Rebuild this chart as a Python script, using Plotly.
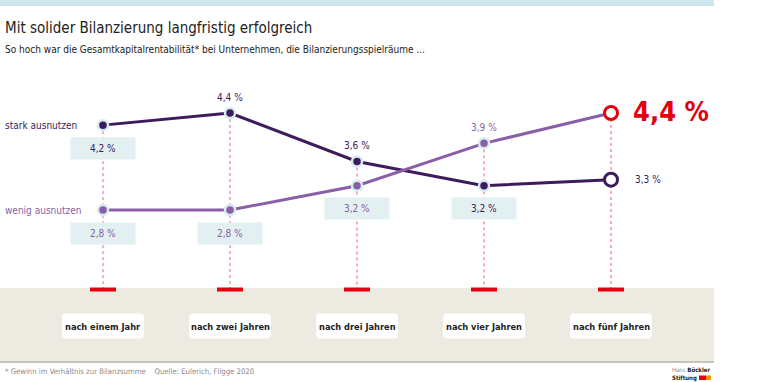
import plotly.graph_objects as go

# ---- data ----
categories = ["nach einem Jahr", "nach zwei Jahren", "nach drei Jahren", "nach vier Jahren", "nach fünf Jahren"]
series_names = ["stark ausnutzen", "wenig ausnutzen"]
stark = [4.2, 4.4, 3.6, 3.2, 3.3]
wenig = [2.8, 2.8, 3.2, 3.9, 4.4]
# label placement per point: "below" (boxed), "above", "right"
stark_pos = ["below", "above", "above", "below", "right"]
wenig_pos = ["below", "below", "below", "above", "big"]

title = "Mit solider Bilanzierung langfristig erfolgreich"
subtitle = "So hoch war die Gesamtkapitalrentabilität* bei Unternehmen, die Bilanzierungsspielräume ..."
footnote = "* Gewinn im Verhältnis zur Bilanzsumme    Quelle: Eulerich, Fligge 2020"

# ---- style ----
W, H = 768, 382
DARK = "#3d1b5c"
LIGHT = "#8a5fa8"
RED = "#e3000f"
HALO = "#d6ecef"
BOXBG = "#e2f0f1"
BEIGE = "#edebe1"
FONT = "Liberation Sans Narrow, DejaVu Sans Condensed, Arial Narrow, sans-serif"

# axis ranges chosen so that the plot area fills the whole page
XR = [-0.811, 5.236]
YR = [-0.037, 6.264]

def fmt(v):
    return f"{v:.1f}".replace(".", ",") + " %"

def py_to_paper(px):
    return 1 - px / H

def py_to_y(px):
    return YR[1] - px / H * (YR[1] - YR[0])

fig = go.Figure()

for vals, col, name in [(stark, DARK, series_names[0]), (wenig, LIGHT, series_names[1])]:
    last_line = RED if col == LIGHT else DARK
    fig.add_trace(go.Scatter(
        x=categories, y=vals, mode="lines", name=name,
        line=dict(color=col, width=3), hoverinfo="skip", showlegend=False))
    fig.add_trace(go.Scatter(
        x=categories[:-1], y=vals[:-1], mode="markers",
        marker=dict(color=col, size=10, line=dict(color=HALO, width=2.5)),
        hoverinfo="skip", showlegend=False))
    fig.add_trace(go.Scatter(
        x=categories[-1:], y=vals[-1:], mode="markers",
        marker=dict(color="white", size=13, line=dict(color=last_line, width=3)),
        hoverinfo="skip", showlegend=False))

shapes = []
band_top = 288
band_bot = 362
band_mid = (band_top + band_bot) / 2 + 1
# top bar
shapes.append(dict(type="rect", xref="paper", yref="paper", x0=0, x1=714 / W,
                   y0=py_to_paper(6), y1=1, fillcolor="#cde5ef", line_width=0, layer="below"))
# beige band
shapes.append(dict(type="rect", xref="paper", yref="paper", x0=0, x1=714 / W,
                   y0=py_to_paper(band_bot), y1=py_to_paper(band_top), fillcolor=BEIGE,
                   line_width=0, layer="below"))
shapes.append(dict(type="line", xref="paper", yref="paper", x0=0, x1=714 / W,
                   y0=py_to_paper(band_bot), y1=py_to_paper(band_bot),
                   line=dict(color="#b5b3ab", width=1.5)))

for c, s, w in zip(categories, stark, wenig):
    # dotted guide
    shapes.append(dict(type="line", xref="x", yref="y", x0=c, x1=c, y0=max(s, w), y1=py_to_y(band_top),
                       line=dict(color="#f0606a", width=1, dash="dot"), layer="below"))
    # red tick
    shapes.append(dict(type="line", xref="x", yref="paper", xsizemode="pixel", xanchor=c,
                       x0=-13, x1=13, y0=py_to_paper(band_top + 1.5), y1=py_to_paper(band_top + 1.5),
                       line=dict(color=RED, width=4)))
    # rounded white label box
    r = 4
    hw, hh = 41, 12.5
    path = (f"M {-hw + r},{-hh} L {hw - r},{-hh} Q {hw},{-hh} {hw},{-hh + r} "
            f"L {hw},{hh - r} Q {hw},{hh} {hw - r},{hh} L {-hw + r},{hh} "
            f"Q {-hw},{hh} {-hw},{hh - r} L {-hw},{-hh + r} Q {-hw},{-hh} {-hw + r},{-hh} Z")
    shapes.append(dict(type="path", xref="x", yref="paper", xsizemode="pixel", ysizemode="pixel",
                       xanchor=c, yanchor=py_to_paper(band_mid), path=path,
                       fillcolor="white", line_width=0))

annotations = []
# title / subtitle
annotations.append(dict(text=title, xref="paper", yref="paper", x=3 / W, y=py_to_paper(28),
                        xanchor="left", yanchor="middle", showarrow=False,
                        font=dict(family=FONT, size=15, color="#222222")))
annotations.append(dict(text=subtitle, xref="paper", yref="paper", x=3 / W, y=py_to_paper(50),
                        xanchor="left", yanchor="middle", showarrow=False,
                        font=dict(family=FONT, size=10, color="#222222")))
# series labels
annotations.append(dict(text=series_names[0], xref="paper", yref="y", x=3 / W, y=stark[0],
                        xanchor="left", yanchor="middle", showarrow=False,
                        font=dict(family=FONT, size=10, color=DARK)))
annotations.append(dict(text=series_names[1], xref="paper", yref="y", x=3 / W, y=wenig[0],
                        xanchor="left", yanchor="middle", showarrow=False,
                        font=dict(family=FONT, size=10, color=LIGHT)))

for vals, pos, col in [(stark, stark_pos, DARK), (wenig, wenig_pos, LIGHT)]:
    for c, v, p in zip(categories, vals, pos):
        if p == "below":
            annotations.append(dict(text=fmt(v), x=c, y=v, yshift=-23, yanchor="middle", showarrow=False,
                                    bgcolor=BOXBG, width=62, height=19, borderpad=1,
                                    font=dict(family=FONT, size=10, color=col)))
        elif p == "above":
            annotations.append(dict(text=fmt(v), x=c, y=v, yshift=16, yanchor="middle", showarrow=False,
                                    font=dict(family=FONT, size=10, color=col)))
        elif p == "right":
            annotations.append(dict(text=fmt(v), x=c, y=v, xshift=22, xanchor="left", yanchor="middle",
                                    showarrow=False, font=dict(family=FONT, size=10, color=col)))
        elif p == "big":
            annotations.append(dict(text="<b>" + fmt(v) + "</b>", x=c, y=v, xshift=20, yshift=2,
                                    xanchor="left", yanchor="middle", showarrow=False,
                                    font=dict(family=FONT, size=27, color=RED)))

# category labels
for c in categories:
    annotations.append(dict(text="<b>" + c + "</b>", x=c, xref="x", yref="paper",
                            y=py_to_paper(band_mid), yanchor="middle", showarrow=False,
                            font=dict(family=FONT, size=9.2, color="#222222")))

# footnote
annotations.append(dict(text=footnote, xref="paper", yref="paper", x=3 / W, y=py_to_paper(371),
                        xanchor="left", yanchor="middle", showarrow=False,
                        font=dict(family=FONT, size=7.7, color="#8a8a8a")))
# logo
annotations.append(dict(text="<span style='color:#888'>Hans</span> <b>Böckler</b>",
                        xref="paper", yref="paper", x=670 / W, y=py_to_paper(369.5),
                        xanchor="left", yanchor="middle", showarrow=False,
                        font=dict(family=FONT, size=6, color="#222222")))
annotations.append(dict(text="<b>Stiftung</b>", xref="paper", yref="paper", x=670 / W, y=py_to_paper(377.5),
                        xanchor="left", yanchor="middle", showarrow=False,
                        font=dict(family=FONT, size=6, color="#222222")))
shapes.append(dict(type="rect", xref="paper", yref="paper", x0=699 / W, x1=706 / W,
                   y0=py_to_paper(380), y1=py_to_paper(375.5), fillcolor=RED, line_width=0))
shapes.append(dict(type="rect", xref="paper", yref="paper", x0=706 / W, x1=711 / W,
                   y0=py_to_paper(380), y1=py_to_paper(375.5), fillcolor="#f39200", line_width=0))

fig.update_layout(
    width=W, height=H, margin=dict(l=0, r=0, t=0, b=0),
    paper_bgcolor="white", plot_bgcolor="white",
    xaxis=dict(type="category", range=XR, visible=False, fixedrange=True),
    yaxis=dict(range=YR, visible=False, fixedrange=True),
    shapes=shapes, annotations=annotations, showlegend=False,
)

fig.write_html("out.html", config={"displayModeBar": False},
               post_script="document.body.style.margin='0';document.body.style.overflow='hidden';")
